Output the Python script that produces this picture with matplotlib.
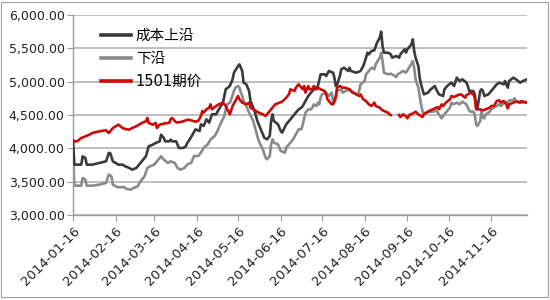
import numpy as np
import pandas as pd
import matplotlib
matplotlib.use("Agg")
import matplotlib.pyplot as plt
import matplotlib.dates as mdates
from matplotlib.ticker import FuncFormatter

plt.rcParams['font.family'] = ['DejaVu Sans', 'Noto Sans CJK SC']

start_date = "2014-01-16"
labels = ["成本上沿", "下沿", "1501期价"]
tick_dates = ["2014-01-16", "2014-02-16", "2014-03-16", "2014-04-16", "2014-05-16", "2014-06-16",
              "2014-07-16", "2014-08-16", "2014-09-16", "2014-10-16", "2014-11-16"]
y_ticks = [3000, 3500, 4000, 4500, 5000, 5500, 6000]

# 成本上沿 (days after 2014-01-16, value)
upper_days = [0, 1, 3, 6, 7, 9, 10, 14, 19, 24, 26, 27, 29, 31, 33, 36, 38, 41, 43, 46, 48, 50, 53, 55, 58,
              60, 63, 64, 66, 67, 70, 71, 72, 75, 77, 80, 82, 83, 84, 87, 89, 92, 93, 95, 97, 99, 101, 104,
              106, 109, 110, 111, 114, 116, 117, 120, 121, 123, 124, 126, 128, 129, 132, 134, 137, 139, 141,
              143, 144, 145, 146, 149, 151, 152, 155, 157, 160, 162, 164, 166, 167, 171, 174, 178, 180, 183,
              184, 186, 189, 190, 191, 192, 194, 195, 197, 200, 201, 202, 206, 209, 211, 213, 214, 215, 217,
              219, 221, 223, 224, 225, 226, 229, 231, 232, 235, 237, 238, 241, 242, 243, 246, 247, 248, 249,
              251, 252, 253, 255, 258, 260, 263, 264, 266, 269, 270, 272, 275, 277, 279, 281, 283, 286, 287,
              288, 291, 292, 293, 294, 296, 297, 298, 299, 302, 304, 305, 308, 310, 313, 314, 316, 317, 320,
              322, 325, 327, 330]
upper_vals = [4120, 3755, 3755, 3755, 3880, 3855, 3755, 3755, 3780, 3805, 3930, 3930, 3805, 3780, 3755, 3755,
              3730, 3705, 3680, 3705, 3755, 3805, 3880, 4030, 4055, 4080, 4105, 4205, 4155, 4105, 4105, 4130,
              4105, 4105, 4005, 4005, 4030, 4080, 4105, 4210, 4285, 4260, 4360, 4335, 4435, 4385, 4510, 4510,
              4585, 4685, 4785, 4885, 4935, 5035, 5135, 5235, 5260, 5160, 4985, 4960, 4860, 4710, 4560, 4410,
              4260, 4160, 4135, 4185, 4410, 4510, 4410, 4360, 4260, 4235, 4360, 4410, 4485, 4535, 4585, 4610,
              4635, 4785, 4860, 4935, 5110, 5110, 5085, 5160, 5135, 5060, 4935, 4960, 5085, 5185, 5210, 5160,
              5210, 5160, 5135, 5160, 5235, 5360, 5435, 5410, 5460, 5470, 5585, 5660, 5750, 5535, 5435, 5435,
              5410, 5360, 5385, 5360, 5410, 5485, 5435, 5485, 5560, 5635, 5460, 5360, 5235, 5060, 4960, 4810,
              4835, 4885, 4935, 4885, 4810, 4785, 4885, 4935, 4985, 4935, 5060, 5010, 5035, 4985, 4935, 4860,
              4860, 4810, 4660, 4610, 4860, 4885, 4860, 4785, 4810, 4860, 4885, 4960, 4985, 4960, 5010, 4910,
              5010, 5060, 5035, 4985, 5010, 5035]

# 下沿
lower_days = [0, 1, 3, 6, 7, 9, 10, 14, 19, 24, 26, 28, 29, 31, 33, 37, 39, 42, 44, 47, 49, 52, 54, 56, 59,
              61, 64, 66, 69, 71, 74, 76, 78, 81, 83, 86, 88, 91, 93, 95, 98, 100, 103, 105, 107, 110, 111,
              112, 114, 115, 117, 118, 120, 121, 122, 123, 124, 126, 128, 131, 133, 135, 138, 140, 141, 143,
              144, 145, 146, 149, 151, 154, 155, 157, 160, 162, 164, 166, 167, 169, 171, 173, 174, 175, 177,
              178, 179, 180, 181, 184, 186, 188, 189, 190, 191, 192, 195, 196, 198, 201, 203, 206, 207, 208,
              209, 212, 213, 215, 217, 219, 220, 223, 224, 225, 226, 229, 231, 234, 235, 236, 238, 240, 242,
              245, 246, 247, 248, 249, 251, 252, 253, 254, 255, 257, 259, 262, 264, 266, 268, 269, 271, 274,
              275, 276, 279, 281, 283, 286, 287, 288, 289, 291, 292, 293, 294, 296, 297, 298, 299, 300, 302,
              303, 304, 306, 308, 310, 311, 314, 316, 317, 320, 321, 322, 325, 327, 330]
lower_vals = [3950, 3440, 3440, 3440, 3555, 3530, 3440, 3440, 3455, 3480, 3605, 3580, 3455, 3430, 3415, 3420,
              3390, 3380, 3405, 3430, 3505, 3580, 3705, 3730, 3755, 3805, 3880, 3830, 3780, 3805, 3780, 3705,
              3680, 3705, 3755, 3785, 3885, 3885, 3935, 4010, 4060, 4135, 4185, 4260, 4360, 4485, 4585, 4660,
              4685, 4735, 4860, 4910, 4935, 4910, 4835, 4785, 4710, 4635, 4535, 4410, 4260, 4110, 3985, 3860,
              3835, 3885, 4060, 4135, 4085, 4060, 3960, 3935, 4010, 4060, 4135, 4210, 4285, 4285, 4360, 4535,
              4585, 4585, 4610, 4660, 4635, 4685, 4660, 4760, 4810, 4835, 4785, 4835, 4710, 4685, 4735, 4860,
              4885, 4835, 4860, 4885, 4835, 4810, 4810, 4860, 4960, 5010, 5110, 5160, 5210, 5185, 5260, 5360,
              5435, 5310, 5135, 5110, 5120, 5085, 5070, 5110, 5135, 5160, 5135, 5235, 5270, 5310, 5210, 5035,
              4910, 4785, 4660, 4560, 4520, 4535, 4550, 4550, 4570, 4510, 4450, 4485, 4535, 4610, 4685, 4660,
              4685, 4660, 4700, 4660, 4610, 4570, 4550, 4550, 4510, 4360, 4335, 4410, 4560, 4460, 4450, 4510,
              4535, 4550, 4585, 4610, 4635, 4660, 4635, 4700, 4685, 4720, 4720, 4750, 4710, 4700, 4685, 4700]

# 1501期价 (nan = no quote)
fut_days = [0, 3, 6, 9, 12, 14, 19, 24, 26, 29, 31, 33, 36, 38, 41, 43, 46, 48, 50, 53, 54, 55, 58, 60, 61,
            63, 66, 69, 70, 71, 72, 75, 77, 80, 82, 84, 89, 91, 93, 94, 95, 97, 99, 100, 101, 104, 106, 109,
            111, 114, 116, 118, 120, 121, 123, 126, 128, 129, 131, 133, 135, 138, 140, 143, 145, 147, 150,
            152, 155, 157, 158, 161, 162, 164, 167, 168, 169, 171, 172, 174, 175, 177, 178, 180, 183, 184,
            185, 186, 188, 189, 190, 191, 192, 194, 196, 198, 201, 202, 204, 206, 208, 209, 211, 213, 215,
            217, 219, 220, 223, 224, 226, 229, 230, 231, 234, 237, 238, 240, 242, 243, 245, 247, 249, 251,
            253, 254, 255, 258, 260, 263, 265, 266, 268, 269, 271, 274, 275, 277, 280, 282, 285, 286, 287,
            289, 291, 292, 293, 296, 298, 300, 303, 304, 306, 308, 310, 311, 313, 315, 316, 317, 320, 322,
            325, 326, 327, 330]
fut_vals = [4105, 4105, 4155, 4180, 4205, 4230, 4255, 4270, 4230, 4305, 4330, 4355, 4305, 4290, 4280, 4305,
            4330, 4355, 4380, 4405, 4455, 4380, 4355, 4380, 4305, 4355, 4370, 4380, 4380, 4440, 4455, 4390,
            4390, 4405, 4420, 4430, 4400, 4410, 4485, 4560, 4535, 4585, 4610, 4660, 4585, 4635, 4660, 4685,
            4635, 4510, 4635, 4710, 4785, 4735, 4685, 4660, 4685, 4610, 4585, 4560, 4535, 4510, 4485, 4560,
            4610, 4660, 4685, 4700, 4760, 4810, 4885, 4860, 4910, 4960, 4885, 4935, 4835, 4935, 4885, 4885,
            4935, 4885, 4910, 4885, 4860, 4810, 4735, 4710, 4660, 4660, 4710, 4785, 4910, 4935, 4910, 4910,
            4885, 4860, 4835, 4810, 4785, 4810, 4735, 4710, 4660, 4635, 4685, 4635, 4610, 4585, 4560, 4535,
            4510, 4500, np.nan, 4500, 4470, 4510, 4485, 4450, 4510, 4520, 4550, 4510, 4485, 4470, 4510, 4550,
            4570, 4600, 4620, 4585, 4660, 4635, 4685, 4735, 4785, 4770, 4800, 4810, 4760, 4800, 4810, 4835,
            4810, 4760, 4585, 4585, 4570, 4585, 4610, 4635, 4635, 4710, 4720, 4685, 4710, 4660, 4600, 4660,
            4685, 4700, 4685, 4710, 4700, 4685]

base = pd.Timestamp(start_date)


def to_dates(days):
    return base + pd.to_timedelta(days, unit="D")


fig = plt.figure(figsize=(5.5, 3.0), dpi=100)
fig.patch.set_facecolor("white")
ax = fig.add_axes([73 / 550, 1 - 215 / 300, (527 - 73) / 550, 200 / 300])

ax.plot(to_dates(upper_days), upper_vals, color="#3a3a3a", lw=1.9, label=labels[0], zorder=3)
ax.plot(to_dates(lower_days), lower_vals, color="#8a8a8a", lw=1.9, label=labels[1], zorder=2)
ax.plot(to_dates(fut_days), fut_vals, color="#cc0a0a", lw=1.9, label=labels[2], zorder=4)

ax.set_ylim(3000, 6000)
ax.set_yticks(y_ticks)
ax.yaxis.set_major_formatter(FuncFormatter(lambda v, p: f"{v:,.2f}"))
ax.set_xlim(base, base + pd.Timedelta(days=330))
ax.set_xticks(pd.to_datetime(tick_dates))
ax.xaxis.set_major_formatter(mdates.DateFormatter("%Y-%m-%d"))
for lab in ax.get_xticklabels():
    lab.set_rotation(45)
    lab.set_ha("right")
    lab.set_rotation_mode("anchor")

ax.grid(axis="y", color="#b4b4b4", lw=1.2)
ax.set_axisbelow(True)
for s in ["top", "right"]:
    ax.spines[s].set_visible(False)
for s in ["left", "bottom"]:
    ax.spines[s].set_color("#9a9a9a")
    ax.spines[s].set_linewidth(1.0)
ax.tick_params(axis="y", direction="out", length=4, color="#9a9a9a", labelsize=9, pad=2, labelcolor="#222222")
ax.tick_params(axis="x", direction="out", length=4, color="#9a9a9a", labelsize=9.5, pad=3, labelcolor="#222222")

leg = ax.legend(loc="upper left", bbox_to_anchor=(95 / 550, 1 - 22 / 300), bbox_transform=fig.transFigure,
                frameon=False, fontsize=10.5, handlelength=2.1, handletextpad=0.3, labelspacing=0.55,
                borderaxespad=0)
for line in leg.get_lines():
    line.set_linewidth(2.6)

fig.add_artist(plt.Rectangle((0.002, 0.01), 0.994, 0.985, transform=fig.transFigure, fill=False,
                             edgecolor="#a0a0a0", lw=0.8))

fig.savefig("out.png", dpi=100, facecolor="white")
